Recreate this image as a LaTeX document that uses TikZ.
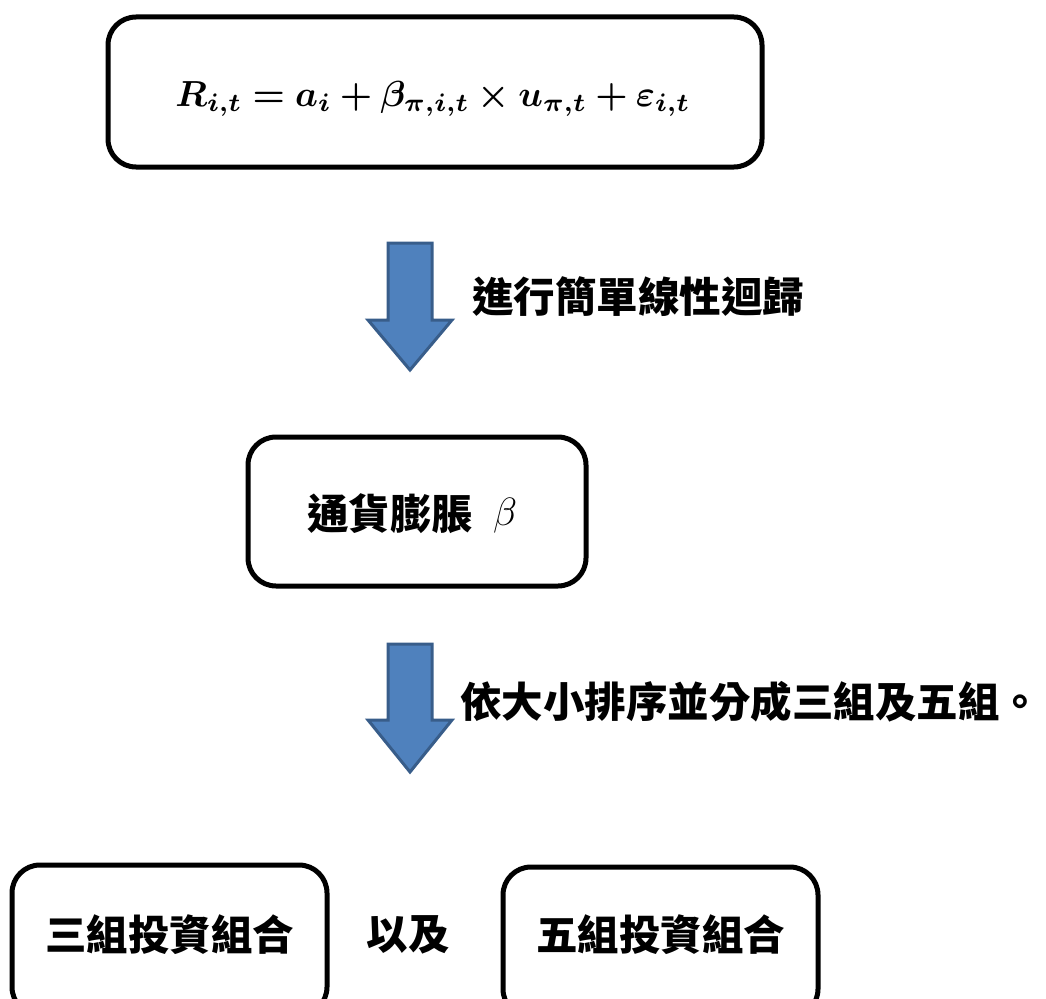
\documentclass[tikz,border=0pt]{standalone}
\usepackage{amsmath,bm}
\usepackage{graphicx}
\usepackage{fontspec}
\newfontfamily\cjk{Noto Sans CJK TC}
\definecolor{arrowfill}{HTML}{4F81BD}
\definecolor{arrowline}{HTML}{385D8A}
\begin{document}
\begin{tikzpicture}[x=1pt,y=-1pt,
  box/.style={draw=black,line width=5pt,rounded corners=28pt,fill=white,inner sep=0pt},
  blockarrow/.style={fill=arrowfill,draw=arrowline,line width=3pt,line join=miter},
  cjktext/.style={font=\cjk\bfseries\fontsize{41.5}{50}\selectfont,inner sep=0pt},
  mathtext/.style={inner sep=0pt}]
\useasboundingbox (0,0) rectangle (1046,998);
\clip (0,0) rectangle (1046,998);
% boxes
\node[box,minimum width=654pt,minimum height=150pt] (eq) at (435,92) {};
\node[mathtext] (eqtext) at (433,99) {\resizebox{515pt}{!}{$\bm{R_{i,t} = a_i + \beta_{\pi,i,t} \times u_{\pi,t} + \varepsilon_{i,t}}$}};
\node[box,minimum width=338pt,minimum height=149pt] (beta) at (417,511.5) {};
\node[cjktext] (betatext) at (412,514) {通貨膨脹\hspace{20pt}\raisebox{4pt}{\resizebox{24pt}{!}{$\beta$}}};
\node[box,minimum width=315pt,minimum height=150pt] (three) at (169.5,940) {};
\node[cjktext] (threetext) at (169.5,935) {三組投資組合};
\node[cjktext] (andtext) at (408,935) {以及};
\node[box,minimum width=315pt,minimum height=150pt] (five) at (660.5,942) {};
\node[cjktext] (fivetext) at (660.5,935) {五組投資組合};
% block arrows
\draw[blockarrow] (388,243) -- (432,243) -- (432,320) -- (452,320) -- (410,370) -- (368,320) -- (388,320) -- cycle;
\draw[blockarrow] (388,644) -- (432,644) -- (432,720) -- (452,720) -- (410,772) -- (368,720) -- (388,720) -- cycle;
% labels
\node[cjktext,anchor=west] (lab1) at (472,297) {進行簡單線性迴歸};
\node[cjktext,anchor=west] (lab2) at (460,702) {依大小排序並分成三組及五組。};
\end{tikzpicture}
\end{document}
